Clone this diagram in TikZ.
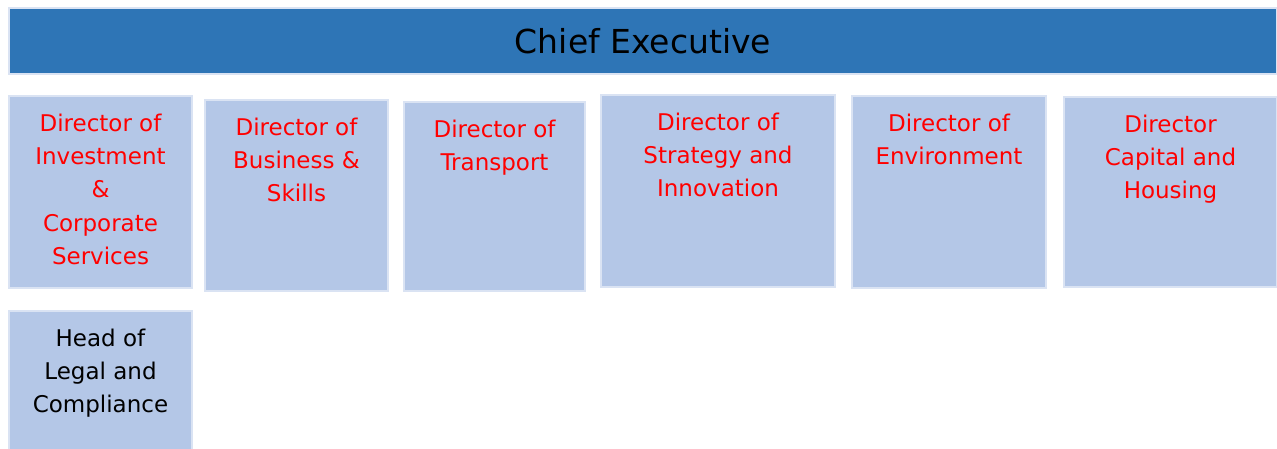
\documentclass[tikz,border=0pt]{standalone}
\usepackage{fontspec}
\setmainfont{DejaVu Sans}
\definecolor{chiefblue}{HTML}{2E75B6}
\definecolor{postblue}{HTML}{B4C7E7}
\definecolor{edgeblue}{HTML}{DAE3F3}
\definecolor{postred}{HTML}{FF0000}
\begin{document}
\begin{tikzpicture}[x=1pt, y=-1pt,
  topbox/.style={draw=edgeblue, line width=2pt, fill=chiefblue, anchor=north west, inner sep=0pt,
    font=\fontsize{33}{40}\selectfont},
  postbox/.style={draw=edgeblue, line width=2pt, fill=postblue, anchor=north west, inner sep=0pt},
  posttext/.style={anchor=north, align=center, inner sep=0pt, text=postred,
    font=\fontsize{23}{33.4}\selectfont}]
  \useasboundingbox (0,0) rectangle (1277,449);
  \node[topbox, minimum width=1268, minimum height=66] (chief) at (8,7) {Chief Executive};
  \node[postbox, minimum width=183, minimum height=192] (invest) at (8,95) {};
  \node[postbox, minimum width=183, minimum height=191] (business) at (204,99) {};
  \node[postbox, minimum width=181, minimum height=189] (transport) at (403,101) {};
  \node[postbox, minimum width=234, minimum height=192] (strategy) at (600,94) {};
  \node[postbox, minimum width=194, minimum height=192] (environ) at (851,95) {};
  \node[postbox, minimum width=213, minimum height=190] (capital) at (1063,96) {};
  \node[postbox, minimum width=183, minimum height=150] (legal) at (8,310) {};
  \node[posttext] (investtext) at ([yshift=-18.5]invest.north) {Director of\\Investment\\\&\\Corporate\\Services};
  \node[posttext] (businesstext) at ([yshift=-18.5]business.north) {Director of\\Business \&\\Skills};
  \node[posttext] (transporttext) at ([yshift=-18.5]transport.north) {Director of\\Transport};
  \node[posttext] (strategytext) at ([yshift=-18.5]strategy.north) {Director of\\Strategy and\\Innovation};
  \node[posttext] (environtext) at ([yshift=-18.5]environ.north) {Director of\\Environment};
  \node[posttext] (capitaltext) at ([yshift=-18.5]capital.north) {Director\\Capital and\\Housing};
  \node[posttext, text=black] (legaltext) at ([yshift=-18.5]legal.north) {Head of\\Legal and\\Compliance};
\end{tikzpicture}
\end{document}
